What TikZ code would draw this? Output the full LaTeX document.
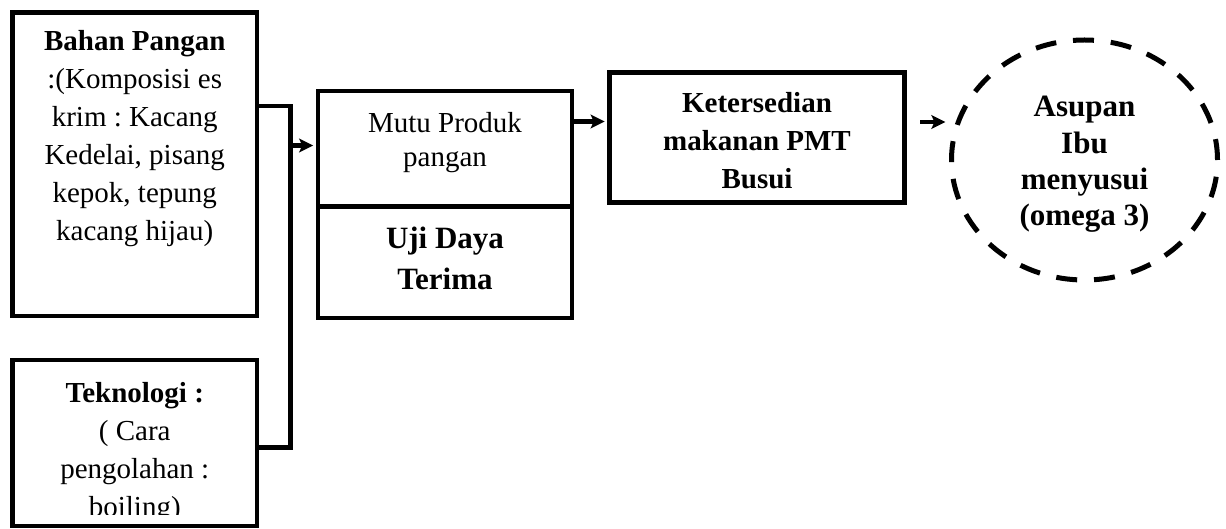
\documentclass[tikz,border=0pt]{standalone}
\usepackage{fontspec}
\setmainfont{Liberation Serif}
\usetikzlibrary{arrows.meta,shapes.geometric}
\newcommand\tstrut{\rule{0pt}{20pt}}
\newcommand\bstrut{\rule{0pt}{21.5pt}}
\frenchspacing
\begin{document}
\begin{tikzpicture}[x=1pt,y=-1pt,
  boxst/.style={draw, line width=4.5pt, rectangle, inner sep=0pt, line join=miter},
  txt/.style={anchor=north, inner sep=0pt, align=center, font=\fontsize{29}{38}\selectfont},
  bigtxt/.style={anchor=north, inner sep=0pt, align=center, font=\fontsize{31}{40.7}\selectfont\bfseries},
  conn/.style={line width=4.5pt, line join=miter},
  arr/.style={conn, -{Stealth[length=14pt,width=13.5pt,inset=3pt]}}]
\useasboundingbox (0,0) rectangle (1226,529);

% boxes
\node[boxst, minimum width=244.5pt, minimum height=303.5pt] (b1) at (134.75,164.25) {};
\node[boxst, minimum width=295pt, minimum height=130pt] (ket) at (757,137.5) {};
\node[boxst, minimum width=254pt, minimum height=115.5pt] (mutu) at (445,148.75) {};
\node[boxst, minimum width=254pt, minimum height=111.5pt] (uji) at (445,262.25) {};
\node[draw, ellipse, line width=5pt, inner sep=0pt, minimum width=266pt, minimum height=240pt,
      dash pattern=on 21pt off 16.88pt] (asupan) at (1084.5,160) {};

% texts
\node[txt] (t1) at (134.75,30) {\tstrut\textbf{Bahan Pangan}\\:(Komposisi es\\krim : Kacang\\Kedelai, pisang\\kepok, tepung\\kacang hijau)};
\begin{scope}
  \clip (0,300) rectangle (300,514);
  \node[txt] (t2) at (134.75,382) {\tstrut\textbf{Teknologi :}\\( Cara\\pengolahan :\\boiling)};
\end{scope}
\node[boxst, minimum width=244.5pt, minimum height=166pt] (b2) at (134.75,443) {};
\node[txt, font=\fontsize{29}{34}\selectfont] (tmutu) at (445,112) {\tstrut Mutu Produk\\pangan};
\node[bigtxt] (tuji) at (445,226.8) {\bstrut Uji Daya\\Terima};
\node[txt, font=\fontsize{29}{38}\selectfont\bfseries] (tket) at (757,92) {\tstrut Ketersedian\\makanan PMT\\Busui};
\node[bigtxt, font=\fontsize{31}{36.3}\selectfont\bfseries] (tasu) at (1084.5,95.2) {\bstrut Asupan\\Ibu\\menyusui\\(omega 3)};

% connectors
\coordinate (j1) at (290.5,106);
\coordinate (j2) at (290.5,447.5);
\coordinate (j3) at (290.5,145.5);
\coordinate (a2) at (0,121.5);
\coordinate (a3) at (920,122);
\draw[conn] (b1.east |- j1) -- (j1) -- (j2) -- (b2.east |- j2);
\draw[arr, shorten >=2.5pt] (j3) -- (mutu.west |- j3);
\draw[arr, shorten >=2.5pt] (mutu.east |- a2) -- (ket.west |- a2);
\draw[arr, shorten >=3.5pt] (a3) -- (asupan.west |- a3);
\end{tikzpicture}
\end{document}
